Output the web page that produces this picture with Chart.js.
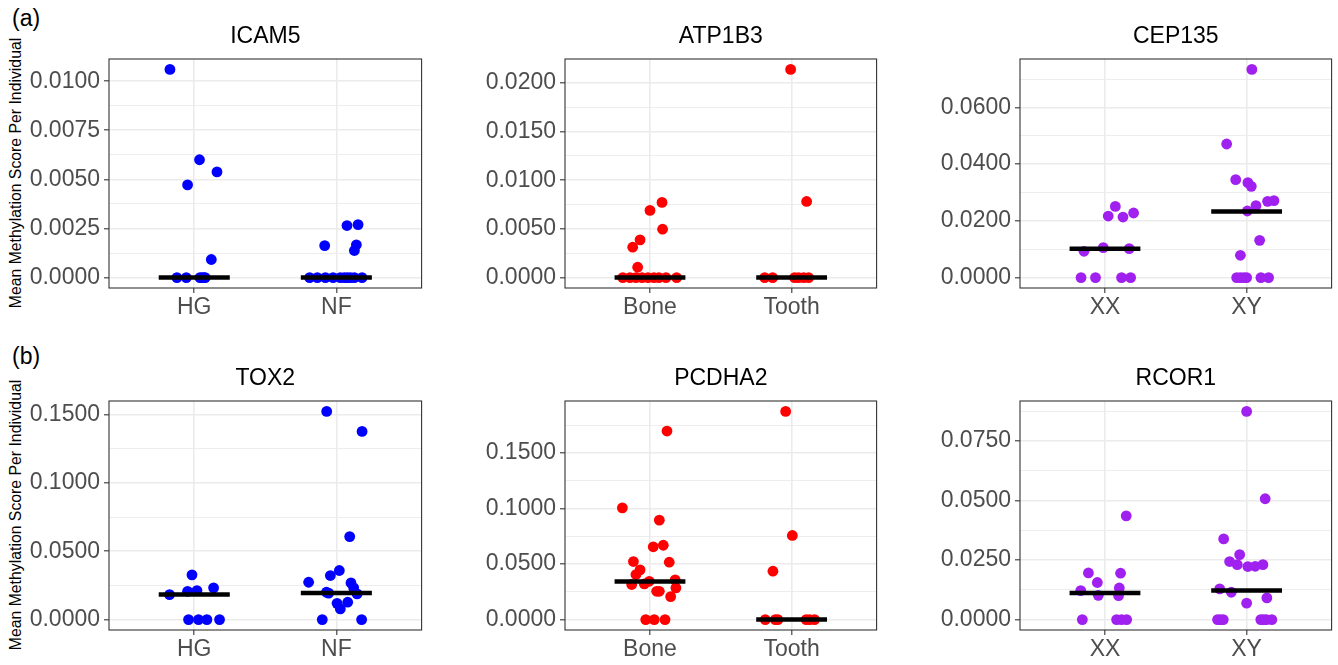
<!DOCTYPE html>
<html><head><meta charset="utf-8">
<script src="https://cdn.jsdelivr.net/npm/chart.js@4.4.0/dist/chart.umd.min.js"></script>
<style>
html,body{margin:0;padding:0;background:#fff;}
body{width:1338px;height:665px;position:relative;overflow:hidden;font-family:"Liberation Sans",Arial,sans-serif;}
canvas{position:absolute;}
.tag{position:absolute;font-size:23px;line-height:22px;color:#000;white-space:nowrap;}
.ytitle{position:absolute;font-size:15.8px;line-height:16px;color:#000;white-space:nowrap;transform:translate(-50%,-50%) rotate(-90deg);}
</style></head><body>
<div class="tag" style="left:12px;top:7px">(a)</div>
<div class="tag" style="left:12px;top:345px">(b)</div>
<div class="ytitle" style="left:16px;top:173px">Mean Methylation Score Per Individual</div>
<div class="ytitle" style="left:16px;top:515px">Mean Methylation Score Per Individual</div>
<script>
// ---------- DATA ----------
const panelTitles = ['ICAM5', 'ATP1B3', 'CEP135', 'TOX2', 'PCDHA2', 'RCOR1'];
const catsSite = ['HG', 'NF'];
const catsTissue = ['Bone', 'Tooth'];
const catsSex = ['XX', 'XY'];

// tick labels per panel
const ticksICAM5 = ['0.0000', '0.0025', '0.0050', '0.0075', '0.0100'];
const ticksATP1B3 = ['0.0000', '0.0050', '0.0100', '0.0150', '0.0200'];
const ticksCEP135 = ['0.0000', '0.0200', '0.0400', '0.0600'];
const ticksTOX2 = ['0.0000', '0.0500', '0.1000', '0.1500'];
const ticksPCDHA2 = ['0.0000', '0.0500', '0.1000', '0.1500'];
const ticksRCOR1 = ['0.0000', '0.0250', '0.0500', '0.0750'];

// ICAM5
const icam5HG = [0.0106, 0.0060, 0.00472, 0.00538, 0.00092, 0, 0, 0, 0, 0, 0];
const icam5HGJitter = [-0.171, 0.037, -0.047, 0.160, 0.120, -0.122, -0.056, 0.040, 0.054, 0.068, 0.077];
const icam5NF = [0.00163, 0.00265, 0.0027, 0.00167, 0.00138, 0, 0, 0, 0, 0, 0, 0, 0, 0, 0];
const icam5NFJitter = [-0.082, 0.075, 0.153, 0.141, 0.127, -0.188, -0.134, -0.077, -0.023, 0.028, 0.056, 0.077, 0.099, 0.127, 0.181];
const icam5Medians = [0, 0];

// ATP1B3
const atp1b3Bone = [0.0069, 0.00772, 0.00497, 0.00388, 0.00312, 0.00106, 0, 0, 0, 0, 0, 0, 0, 0, 0];
const atp1b3BoneJitter = [0.000, 0.085, 0.089, -0.070, -0.122, -0.087, -0.192, -0.141, -0.099, -0.056, -0.014, 0.028, 0.063, 0.113, 0.188];
const atp1b3Tooth = [0.02138, 0.00782, 0, 0, 0, 0, 0, 0];
const atp1b3ToothJitter = [-0.007, 0.106, -0.190, -0.134, 0.021, 0.049, 0.085, 0.120];
const atp1b3Medians = [0, 0];

// CEP135
const cep135XX = [0, 0, 0, 0, 0.00927, 0.01057, 0.01022, 0.0217, 0.0251, 0.02135, 0.02277];
const cep135XXJitter = [-0.169, -0.067, 0.117, 0.181, -0.148, -0.012, 0.171, 0.023, 0.073, 0.127, 0.202];
const cep135XY = [0.0734, 0.0471, 0.03453, 0.03347, 0.03217, 0.02537, 0.02347, 0.02688, 0.02713, 0.01314, 0.00786, 0, 0, 0, 0, 0, 0];
const cep135XYJitter = [0.037, -0.141, -0.077, 0.009, 0.033, 0.066, 0.005, 0.148, 0.193, 0.092, -0.044, -0.070, -0.045, -0.020, 0.000, 0.101, 0.155];
const cep135Medians = [0.0102, 0.0233];

// TOX2
const tox2HG = [0.0183, 0.0207, 0.0212, 0.0327, 0.0232, 0, 0, 0, 0];
const tox2HGJitter = [-0.174, -0.047, 0.019, -0.016, 0.136, -0.040, 0.030, 0.089, 0.178];
const tox2NF = [0.1522, 0.1376, 0.0607, 0.0273, 0.0322, 0.0359, 0.0268, 0.0232, 0.0188, 0.0200, 0.0193, 0.0119, 0.0078, 0.0127, 0, 0];
const tox2NFJitter = [-0.068, 0.181, 0.094, -0.195, -0.042, 0.021, 0.103, 0.122, 0.146, -0.070, -0.054, 0.005, 0.028, 0.080, -0.099, 0.178];
const tox2Medians = [0.0183, 0.0195];

// PCDHA2
const pcdha2Bone = [0.1699, 0.1007, 0.0896, 0.0656, 0.0670, 0.0523, 0.0517, 0.0448, 0.0406, 0.0316, 0.0322, 0.0345, 0.0358, 0.0286, 0.0255, 0.0255, 0.0207, 0, 0, 0];
const pcdha2BoneJitter = [0.120, -0.195, 0.066, 0.023, 0.094, -0.117, 0.136, -0.070, -0.099, -0.129, -0.040, -0.005, 0.178, 0.183, 0.047, 0.066, 0.146, -0.030, 0.030, 0.106];
const pcdha2Tooth = [0.1876, 0.0758, 0.0436, 0, 0, 0, 0, 0, 0];
const pcdha2ToothJitter = [-0.042, 0.005, -0.132, -0.186, -0.115, -0.097, 0.103, 0.127, 0.162];
const pcdha2Medians = [0.0343, 0];

// RCOR1
const rcor1XX = [0.0436, 0.0196, 0.0195, 0.0156, 0.0122, 0.0102, 0.0133, 0.0101, 0, 0, 0, 0];
const rcor1XXJitter = [0.150, -0.117, 0.110, -0.054, -0.171, -0.047, 0.101, 0.096, -0.160, 0.082, 0.117, 0.153];
const rcor1XY = [0.0875, 0.0508, 0.0339, 0.0273, 0.0244, 0.0231, 0.0223, 0.0224, 0.0231, 0.0129, 0.0115, 0.0069, 0.0091, 0, 0, 0, 0, 0, 0, 0];
const rcor1XYJitter = [0.000, 0.131, -0.162, -0.049, -0.120, -0.066, 0.009, 0.061, 0.115, -0.190, -0.108, 0.000, 0.143, -0.205, -0.185, -0.165, 0.100, 0.120, 0.140, 0.178];
const rcor1Medians = [0.0112, 0.0122];

// ---------- STYLE / LAYOUT ----------
const FONT = '"Liberation Sans", Arial, sans-serif';
const COLORS = { blue: '#0000FF', red: '#FF0000', purple: '#A020F0' };
const YW = 105, TH = 45, XH = 40, RP = 5;
const colLeft = [109, 565, 1020], colWidth = [313, 312, 312];
const rowTop = [59, 401], plotH = 229;
const TXT = 23;

const panels = [
  { title: panelTitles[0], cats: catsSite, groups: [[icam5HG, icam5HGJitter], [icam5NF, icam5NFJitter]], medians: icam5Medians, ticks: ticksICAM5, color: COLORS.blue, col: 0, row: 0 },
  { title: panelTitles[1], cats: catsTissue, groups: [[atp1b3Bone, atp1b3BoneJitter], [atp1b3Tooth, atp1b3ToothJitter]], medians: atp1b3Medians, ticks: ticksATP1B3, color: COLORS.red, col: 1, row: 0 },
  { title: panelTitles[2], cats: catsSex, groups: [[cep135XX, cep135XXJitter], [cep135XY, cep135XYJitter]], medians: cep135Medians, ticks: ticksCEP135, color: COLORS.purple, col: 2, row: 0 },
  { title: panelTitles[3], cats: catsSite, groups: [[tox2HG, tox2HGJitter], [tox2NF, tox2NFJitter]], medians: tox2Medians, ticks: ticksTOX2, color: COLORS.blue, col: 0, row: 1 },
  { title: panelTitles[4], cats: catsTissue, groups: [[pcdha2Bone, pcdha2BoneJitter], [pcdha2Tooth, pcdha2ToothJitter]], medians: pcdha2Medians, ticks: ticksPCDHA2, color: COLORS.red, col: 1, row: 1 },
  { title: panelTitles[5], cats: catsSex, groups: [[rcor1XX, rcor1XXJitter], [rcor1XY, rcor1XYJitter]], medians: rcor1Medians, ticks: ticksRCOR1, color: COLORS.purple, col: 2, row: 1 }
];

const borderPlugin = {
  id: 'panelBorder',
  afterDraw(chart) {
    const { ctx, chartArea: a } = chart;
    ctx.save();
    ctx.strokeStyle = '#333333';
    ctx.lineWidth = 1.1;
    ctx.strokeRect(a.left, a.top, a.right - a.left, a.bottom - a.top);
    ctx.restore();
  }
};

panels.forEach(p => {
  const w = colWidth[p.col];
  const cv = document.createElement('canvas');
  cv.width = YW + w + RP;
  cv.height = TH + plotH + XH;
  cv.style.left = (colLeft[p.col] - YW) + 'px';
  cv.style.top = (rowTop[p.row] - TH) + 'px';
  cv.style.width = cv.width + 'px';
  cv.style.height = cv.height + 'px';
  document.body.appendChild(cv);

  const all = p.groups.flatMap(g => g[0]);
  const lo = Math.min(...all), hi = Math.max(...all);
  const span = hi - lo;
  const yMin = lo - 0.05 * span, yMax = hi + 0.05 * span;
  const majors = p.ticks.map(Number);
  const step = majors[1] - majors[0];

  const datasets = [];
  p.medians.forEach((m, i) => {
    datasets.push({
      type: 'line',
      data: [{ x: i + 1 - 0.25, y: m }, { x: i + 1 + 0.25, y: m }],
      borderColor: '#000000', borderWidth: 4.5, borderCapStyle: 'butt',
      pointRadius: 0, order: 0, clip: false
    });
  });
  p.groups.forEach((g, i) => {
    datasets.push({
      type: 'scatter',
      data: g[0].map((v, k) => ({ x: i + 1 + g[1][k], y: v })),
      backgroundColor: p.color, borderWidth: 0, pointRadius: 5.4,
      pointHoverRadius: 5.4, order: 1, clip: false
    });
  });

  new Chart(cv, {
    type: 'scatter',
    data: { datasets },
    plugins: [borderPlugin],
    options: {
      responsive: false, animation: false, devicePixelRatio: 1,
      layout: { padding: { left: 0, right: RP, top: 0, bottom: 0 } },
      plugins: {
        legend: { display: false }, tooltip: { enabled: false },
        title: {
          display: true, text: p.title, fullSize: false, color: '#000000',
          font: { family: FONT, size: TXT, weight: 'normal', lineHeight: 1 },
          padding: { top: 11, bottom: 11 }
        }
      },
      scales: {
        x: {
          type: 'linear', min: 0.4, max: 2.6,
          afterBuildTicks: s => { s.ticks = [{ value: 1, isMajor: true }, { value: 2, isMajor: true }]; },
          afterFit: s => { s.height = XH; s.paddingLeft = 0; s.paddingRight = 0; },
          border: { display: false },
          grid: { color: '#EBEBEB', lineWidth: 1.6, drawTicks: true, tickLength: 5, tickColor: '#333333', tickWidth: 1.1 },
          ticks: {
            autoSkip: false, maxRotation: 0, padding: 1, color: '#4D4D4D',
            font: { family: FONT, size: TXT },
            callback: (v, i) => p.cats[i]
          }
        },
        y: {
          type: 'linear', min: yMin, max: yMax,
          afterBuildTicks: s => {
            const t = [];
            majors.forEach(v => t.push({ value: v, isMajor: true }));
            majors.forEach(v => { const mv = v + step / 2; if (mv <= yMax) t.push({ value: mv, isMajor: false }); });
            t.sort((a, b) => a.value - b.value);
            s.ticks = t;
          },
          afterFit: s => { s.width = YW; s.paddingTop = 0; s.paddingBottom = 0; },
          border: { display: false },
          grid: {
            color: '#EBEBEB',
            lineWidth: c => (c.tick && c.tick.isMajor) ? 1.6 : 0.9,
            drawTicks: true, tickLength: 5,
            tickColor: c => (c.tick && c.tick.isMajor) ? '#333333' : 'rgba(0,0,0,0)',
            tickWidth: 1.1
          },
          ticks: {
            autoSkip: false, padding: 4, color: '#4D4D4D',
            font: { family: FONT, size: TXT },
            callback: (v, i, ts) => ts[i].isMajor ? p.ticks[majors.indexOf(v)] : ''
          }
        }
      }
    }
  });
});
</script>
</body></html>
